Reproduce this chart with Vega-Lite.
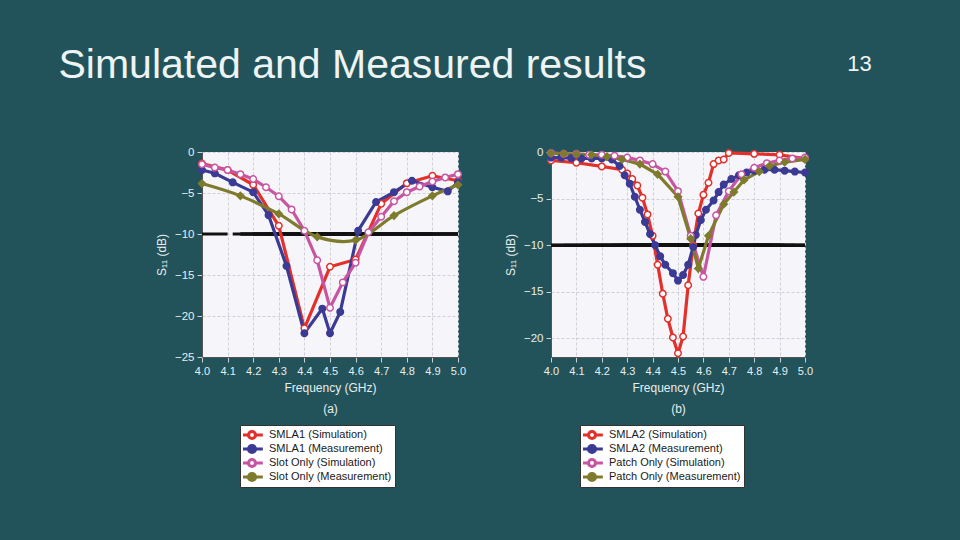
{
  "$schema": "https://vega.github.io/schema/vega-lite/v6.json",
  "background": "#22535b",
  "padding": {"left": 58, "top": 45, "right": 90, "bottom": 53},
  "title": {"text": "Simulated and Measured results", "anchor": "start", "dx": -97, "dy": 34, "fontSize": 41, "offset": 0, "color": "#eef3f3", "font": "Liberation Sans", "fontWeight": "normal"},
  "spacing": 38,
  "datasets": {
    "a": [
      {"series": "SMLA1 (Simulation)", "freq": 4.0, "s11": -1.4},
      {"series": "SMLA1 (Simulation)", "freq": 4.1, "s11": -2.2},
      {"series": "SMLA1 (Simulation)", "freq": 4.2, "s11": -4.0},
      {"series": "SMLA1 (Simulation)", "freq": 4.3, "s11": -9.0},
      {"series": "SMLA1 (Simulation)", "freq": 4.4, "s11": -21.5},
      {"series": "SMLA1 (Simulation)", "freq": 4.5, "s11": -14.0},
      {"series": "SMLA1 (Simulation)", "freq": 4.6, "s11": -13.1},
      {"series": "SMLA1 (Simulation)", "freq": 4.7, "s11": -6.3},
      {"series": "SMLA1 (Simulation)", "freq": 4.8, "s11": -3.8},
      {"series": "SMLA1 (Simulation)", "freq": 4.9, "s11": -2.9},
      {"series": "SMLA1 (Simulation)", "freq": 5.0, "s11": -3.5},
      {"series": "SMLA1 (Measurement)", "freq": 4.0, "s11": -2.2},
      {"series": "SMLA1 (Measurement)", "freq": 4.05, "s11": -2.6},
      {"series": "SMLA1 (Measurement)", "freq": 4.12, "s11": -3.7},
      {"series": "SMLA1 (Measurement)", "freq": 4.2, "s11": -4.9},
      {"series": "SMLA1 (Measurement)", "freq": 4.26, "s11": -7.7},
      {"series": "SMLA1 (Measurement)", "freq": 4.33, "s11": -13.9},
      {"series": "SMLA1 (Measurement)", "freq": 4.4, "s11": -22.1},
      {"series": "SMLA1 (Measurement)", "freq": 4.47, "s11": -19.1},
      {"series": "SMLA1 (Measurement)", "freq": 4.5, "s11": -22.1},
      {"series": "SMLA1 (Measurement)", "freq": 4.54, "s11": -19.5},
      {"series": "SMLA1 (Measurement)", "freq": 4.61, "s11": -9.6},
      {"series": "SMLA1 (Measurement)", "freq": 4.68, "s11": -6.1},
      {"series": "SMLA1 (Measurement)", "freq": 4.75, "s11": -4.9},
      {"series": "SMLA1 (Measurement)", "freq": 4.82, "s11": -3.5},
      {"series": "SMLA1 (Measurement)", "freq": 4.9, "s11": -4.3},
      {"series": "SMLA1 (Measurement)", "freq": 4.96, "s11": -4.8},
      {"series": "SMLA1 (Measurement)", "freq": 5.0, "s11": -3.7},
      {"series": "Slot Only (Simulation)", "freq": 4.0, "s11": -1.5},
      {"series": "Slot Only (Simulation)", "freq": 4.05, "s11": -1.9},
      {"series": "Slot Only (Simulation)", "freq": 4.1, "s11": -2.2},
      {"series": "Slot Only (Simulation)", "freq": 4.15, "s11": -2.7},
      {"series": "Slot Only (Simulation)", "freq": 4.2, "s11": -3.3},
      {"series": "Slot Only (Simulation)", "freq": 4.25, "s11": -4.3},
      {"series": "Slot Only (Simulation)", "freq": 4.3, "s11": -5.4},
      {"series": "Slot Only (Simulation)", "freq": 4.35, "s11": -7.0},
      {"series": "Slot Only (Simulation)", "freq": 4.4, "s11": -9.6},
      {"series": "Slot Only (Simulation)", "freq": 4.45, "s11": -13.2},
      {"series": "Slot Only (Simulation)", "freq": 4.5, "s11": -19.0},
      {"series": "Slot Only (Simulation)", "freq": 4.55, "s11": -15.9},
      {"series": "Slot Only (Simulation)", "freq": 4.6, "s11": -13.5},
      {"series": "Slot Only (Simulation)", "freq": 4.65, "s11": -9.8},
      {"series": "Slot Only (Simulation)", "freq": 4.7, "s11": -7.9},
      {"series": "Slot Only (Simulation)", "freq": 4.75, "s11": -6.0},
      {"series": "Slot Only (Simulation)", "freq": 4.8, "s11": -4.9},
      {"series": "Slot Only (Simulation)", "freq": 4.85, "s11": -4.2},
      {"series": "Slot Only (Simulation)", "freq": 4.9, "s11": -3.6},
      {"series": "Slot Only (Simulation)", "freq": 4.95, "s11": -3.1},
      {"series": "Slot Only (Simulation)", "freq": 5.0, "s11": -2.7},
      {"series": "Slot Only (Measurement)", "freq": 4.0, "s11": -3.85},
      {"series": "Slot Only (Measurement)", "freq": 4.15, "s11": -5.35},
      {"series": "Slot Only (Measurement)", "freq": 4.3, "s11": -7.55},
      {"series": "Slot Only (Measurement)", "freq": 4.45, "s11": -10.35},
      {"series": "Slot Only (Measurement)", "freq": 4.6, "s11": -10.75},
      {"series": "Slot Only (Measurement)", "freq": 4.75, "s11": -7.75},
      {"series": "Slot Only (Measurement)", "freq": 4.9, "s11": -5.35},
      {"series": "Slot Only (Measurement)", "freq": 5.0, "s11": -4.0}
    ],
    "b": [
      {"series": "SMLA2 (Simulation)", "freq": 4.0, "s11": -0.9},
      {"series": "SMLA2 (Simulation)", "freq": 4.1, "s11": -1.15},
      {"series": "SMLA2 (Simulation)", "freq": 4.2, "s11": -1.55},
      {"series": "SMLA2 (Simulation)", "freq": 4.28, "s11": -1.9},
      {"series": "SMLA2 (Simulation)", "freq": 4.3, "s11": -2.3},
      {"series": "SMLA2 (Simulation)", "freq": 4.32, "s11": -2.9},
      {"series": "SMLA2 (Simulation)", "freq": 4.34, "s11": -3.6},
      {"series": "SMLA2 (Simulation)", "freq": 4.36, "s11": -4.9},
      {"series": "SMLA2 (Simulation)", "freq": 4.38, "s11": -6.7},
      {"series": "SMLA2 (Simulation)", "freq": 4.4, "s11": -9.0},
      {"series": "SMLA2 (Simulation)", "freq": 4.42, "s11": -12.1},
      {"series": "SMLA2 (Simulation)", "freq": 4.44, "s11": -15.2},
      {"series": "SMLA2 (Simulation)", "freq": 4.46, "s11": -17.9},
      {"series": "SMLA2 (Simulation)", "freq": 4.48, "s11": -19.9},
      {"series": "SMLA2 (Simulation)", "freq": 4.5, "s11": -21.6},
      {"series": "SMLA2 (Simulation)", "freq": 4.52, "s11": -19.8},
      {"series": "SMLA2 (Simulation)", "freq": 4.54, "s11": -14.3},
      {"series": "SMLA2 (Simulation)", "freq": 4.56, "s11": -10.0},
      {"series": "SMLA2 (Simulation)", "freq": 4.58, "s11": -6.6},
      {"series": "SMLA2 (Simulation)", "freq": 4.6, "s11": -4.6},
      {"series": "SMLA2 (Simulation)", "freq": 4.62, "s11": -3.3},
      {"series": "SMLA2 (Simulation)", "freq": 4.64, "s11": -1.3},
      {"series": "SMLA2 (Simulation)", "freq": 4.66, "s11": -0.9},
      {"series": "SMLA2 (Simulation)", "freq": 4.68, "s11": -0.8},
      {"series": "SMLA2 (Simulation)", "freq": 4.7, "s11": -0.1},
      {"series": "SMLA2 (Simulation)", "freq": 4.8, "s11": -0.2},
      {"series": "SMLA2 (Simulation)", "freq": 4.9, "s11": -0.3},
      {"series": "SMLA2 (Simulation)", "freq": 5.0, "s11": -0.7},
      {"series": "SMLA2 (Measurement)", "freq": 4.0, "s11": -0.6},
      {"series": "SMLA2 (Measurement)", "freq": 4.04, "s11": -0.6},
      {"series": "SMLA2 (Measurement)", "freq": 4.08, "s11": -0.65},
      {"series": "SMLA2 (Measurement)", "freq": 4.12, "s11": -0.7},
      {"series": "SMLA2 (Measurement)", "freq": 4.16, "s11": -0.7},
      {"series": "SMLA2 (Measurement)", "freq": 4.2, "s11": -0.7},
      {"series": "SMLA2 (Measurement)", "freq": 4.24, "s11": -0.8},
      {"series": "SMLA2 (Measurement)", "freq": 4.27, "s11": -1.5},
      {"series": "SMLA2 (Measurement)", "freq": 4.29, "s11": -2.5},
      {"series": "SMLA2 (Measurement)", "freq": 4.31, "s11": -3.4},
      {"series": "SMLA2 (Measurement)", "freq": 4.33, "s11": -4.8},
      {"series": "SMLA2 (Measurement)", "freq": 4.35, "s11": -6.2},
      {"series": "SMLA2 (Measurement)", "freq": 4.37, "s11": -7.5},
      {"series": "SMLA2 (Measurement)", "freq": 4.39, "s11": -8.8},
      {"series": "SMLA2 (Measurement)", "freq": 4.41, "s11": -10.0},
      {"series": "SMLA2 (Measurement)", "freq": 4.43, "s11": -11.2},
      {"series": "SMLA2 (Measurement)", "freq": 4.45, "s11": -12.1},
      {"series": "SMLA2 (Measurement)", "freq": 4.48, "s11": -13.0},
      {"series": "SMLA2 (Measurement)", "freq": 4.5, "s11": -13.8},
      {"series": "SMLA2 (Measurement)", "freq": 4.52, "s11": -13.2},
      {"series": "SMLA2 (Measurement)", "freq": 4.54, "s11": -12.1},
      {"series": "SMLA2 (Measurement)", "freq": 4.56, "s11": -10.2},
      {"series": "SMLA2 (Measurement)", "freq": 4.57, "s11": -8.9},
      {"series": "SMLA2 (Measurement)", "freq": 4.59, "s11": -7.3},
      {"series": "SMLA2 (Measurement)", "freq": 4.61, "s11": -6.2},
      {"series": "SMLA2 (Measurement)", "freq": 4.64, "s11": -5.2},
      {"series": "SMLA2 (Measurement)", "freq": 4.66, "s11": -4.3},
      {"series": "SMLA2 (Measurement)", "freq": 4.68, "s11": -3.5},
      {"series": "SMLA2 (Measurement)", "freq": 4.71, "s11": -2.9},
      {"series": "SMLA2 (Measurement)", "freq": 4.74, "s11": -2.5},
      {"series": "SMLA2 (Measurement)", "freq": 4.77, "s11": -2.2},
      {"series": "SMLA2 (Measurement)", "freq": 4.8, "s11": -2.0},
      {"series": "SMLA2 (Measurement)", "freq": 4.84, "s11": -1.9},
      {"series": "SMLA2 (Measurement)", "freq": 4.88, "s11": -1.9},
      {"series": "SMLA2 (Measurement)", "freq": 4.92, "s11": -2.0},
      {"series": "SMLA2 (Measurement)", "freq": 4.96, "s11": -2.1},
      {"series": "SMLA2 (Measurement)", "freq": 5.0, "s11": -2.2},
      {"series": "Patch Only (Simulation)", "freq": 4.0, "s11": -0.1},
      {"series": "Patch Only (Simulation)", "freq": 4.05, "s11": -0.2},
      {"series": "Patch Only (Simulation)", "freq": 4.1, "s11": -0.2},
      {"series": "Patch Only (Simulation)", "freq": 4.15, "s11": -0.3},
      {"series": "Patch Only (Simulation)", "freq": 4.2, "s11": -0.3},
      {"series": "Patch Only (Simulation)", "freq": 4.25, "s11": -0.4},
      {"series": "Patch Only (Simulation)", "freq": 4.3, "s11": -0.6},
      {"series": "Patch Only (Simulation)", "freq": 4.35, "s11": -0.9},
      {"series": "Patch Only (Simulation)", "freq": 4.4, "s11": -1.3},
      {"series": "Patch Only (Simulation)", "freq": 4.45, "s11": -2.1},
      {"series": "Patch Only (Simulation)", "freq": 4.5, "s11": -4.2},
      {"series": "Patch Only (Simulation)", "freq": 4.55, "s11": -9.0},
      {"series": "Patch Only (Simulation)", "freq": 4.6, "s11": -13.4},
      {"series": "Patch Only (Simulation)", "freq": 4.65, "s11": -6.8},
      {"series": "Patch Only (Simulation)", "freq": 4.7, "s11": -4.2},
      {"series": "Patch Only (Simulation)", "freq": 4.75, "s11": -2.4},
      {"series": "Patch Only (Simulation)", "freq": 4.8, "s11": -1.7},
      {"series": "Patch Only (Simulation)", "freq": 4.85, "s11": -1.2},
      {"series": "Patch Only (Simulation)", "freq": 4.9, "s11": -0.9},
      {"series": "Patch Only (Simulation)", "freq": 4.95, "s11": -0.7},
      {"series": "Patch Only (Simulation)", "freq": 5.0, "s11": -0.6},
      {"series": "Patch Only (Measurement)", "freq": 4.0, "s11": -0.15},
      {"series": "Patch Only (Measurement)", "freq": 4.05, "s11": -0.2},
      {"series": "Patch Only (Measurement)", "freq": 4.1, "s11": -0.25},
      {"series": "Patch Only (Measurement)", "freq": 4.16, "s11": -0.3},
      {"series": "Patch Only (Measurement)", "freq": 4.22, "s11": -0.5},
      {"series": "Patch Only (Measurement)", "freq": 4.28, "s11": -0.8},
      {"series": "Patch Only (Measurement)", "freq": 4.35, "s11": -1.3},
      {"series": "Patch Only (Measurement)", "freq": 4.42, "s11": -2.4},
      {"series": "Patch Only (Measurement)", "freq": 4.5, "s11": -4.8},
      {"series": "Patch Only (Measurement)", "freq": 4.55, "s11": -9.3},
      {"series": "Patch Only (Measurement)", "freq": 4.58, "s11": -12.5},
      {"series": "Patch Only (Measurement)", "freq": 4.62, "s11": -9.0},
      {"series": "Patch Only (Measurement)", "freq": 4.68, "s11": -5.6},
      {"series": "Patch Only (Measurement)", "freq": 4.72, "s11": -4.3},
      {"series": "Patch Only (Measurement)", "freq": 4.76, "s11": -3.0},
      {"series": "Patch Only (Measurement)", "freq": 4.82, "s11": -2.1},
      {"series": "Patch Only (Measurement)", "freq": 4.86, "s11": -1.5},
      {"series": "Patch Only (Measurement)", "freq": 4.92, "s11": -1.1},
      {"series": "Patch Only (Measurement)", "freq": 5.0, "s11": -0.8}
    ]
  },
  "hconcat": [
    {
      "data": {"name": "a"},
      "width": 256,
      "height": 205,
      "title": {"text": " ", "fontSize": 22, "offset": 70},
      "encoding": {
        "x": {"field": "freq", "type": "quantitative", "scale": {"domain": [4, 5], "nice": false, "zero": false},
              "axis": {"values": [4.0, 4.1, 4.2, 4.3, 4.4, 4.5, 4.6, 4.7, 4.8, 4.9, 5.0], "format": ".1f", "title": ["Frequency (GHz)", "(a)"], "titleLineHeight": 21, "titlePadding": 6}},
        "y": {"field": "s11", "type": "quantitative", "scale": {"domain": [-25, 0], "nice": false, "zero": false},
              "axis": {"values": [0, -5, -10, -15, -20, -25], "title": "S₁₁ (dB)", "titlePadding": 6}}
      },
      "layer": [
        {
          "mark": {"type": "rule", "color": "#111111", "strokeWidth": 3},
          "encoding": {
            "x": {"aggregate": "min", "field": "freq", "type": "quantitative", "title": ["Frequency (GHz)", "(a)"]},
            "x2": {"aggregate": "max", "field": "freq"},
            "y": {"datum": -10, "type": "quantitative"}
          }
        },
        {
          "transform": [{"filter": "datum.series != 'Slot Only (Measurement)'"}],
          "mark": {"type": "line"},
          "encoding": {
            "stroke": {"field": "series", "type": "nominal",
              "scale": {"domain": ["SMLA1 (Simulation)", "SMLA1 (Measurement)", "Slot Only (Simulation)", "Slot Only (Measurement)"], "range": ["#e2302b", "#3b3a94", "#c855a2", "#7e7b2c"]},
              "legend": {"legendX": 38, "legendY": 273, "symbolType": "M-1.55,0H-0.5A0.5,0.5,0,1,1,0.5,0H1.55M0.5,0A0.5,0.5,0,1,1,-0.5,0"}},
            "strokeWidth": {"field": "series", "type": "nominal",
              "scale": {"domain": ["SMLA1 (Simulation)", "SMLA1 (Measurement)", "Slot Only (Simulation)", "Slot Only (Measurement)"], "range": [3.2, 3.2, 1.8, 2.2]}, "legend": null}
          }
        },
        {
          "transform": [{"filter": "datum.series == 'Slot Only (Measurement)'"}],
          "mark": {"type": "line", "interpolate": "catmull-rom"},
          "encoding": {
            "stroke": {"field": "series", "type": "nominal",
              "scale": {"domain": ["SMLA1 (Simulation)", "SMLA1 (Measurement)", "Slot Only (Simulation)", "Slot Only (Measurement)"], "range": ["#e2302b", "#3b3a94", "#c855a2", "#7e7b2c"]},
              "legend": {"legendX": 38, "legendY": 273, "symbolType": "M-1.55,0H-0.5A0.5,0.5,0,1,1,0.5,0H1.55M0.5,0A0.5,0.5,0,1,1,-0.5,0"}},
            "strokeWidth": {"field": "series", "type": "nominal",
              "scale": {"domain": ["SMLA1 (Simulation)", "SMLA1 (Measurement)", "Slot Only (Simulation)", "Slot Only (Measurement)"], "range": [3.2, 3.2, 1.8, 2.2]}, "legend": null}
          }
        },
        {
          "transform": [{"filter": "datum.series != 'Slot Only (Measurement)'"}],
          "mark": {"type": "point", "opacity": 1, "strokeWidth": 1.5, "size": 42},
          "encoding": {
            "stroke": {"field": "series", "type": "nominal",
              "scale": {"domain": ["SMLA1 (Simulation)", "SMLA1 (Measurement)", "Slot Only (Simulation)", "Slot Only (Measurement)"], "range": ["#e2302b", "#3b3a94", "#c855a2", "#7e7b2c"]},
              "legend": {"legendX": 38, "legendY": 273, "symbolType": "M-1.55,0H-0.5A0.5,0.5,0,1,1,0.5,0H1.55M0.5,0A0.5,0.5,0,1,1,-0.5,0"}},
            "fill": {"field": "series", "type": "nominal",
              "scale": {"domain": ["SMLA1 (Simulation)", "SMLA1 (Measurement)", "Slot Only (Simulation)", "Slot Only (Measurement)"], "range": ["#ffffff", "#3b3a94", "#ffffff", "#7e7b2c"]},
              "legend": {"legendX": 38, "legendY": 273, "symbolType": "M-1.55,0H-0.5A0.5,0.5,0,1,1,0.5,0H1.55M0.5,0A0.5,0.5,0,1,1,-0.5,0"}}
          }
        },
        {
          "transform": [{"filter": "datum.series == 'Slot Only (Measurement)'"}],
          "mark": {"type": "point", "shape": "diamond", "opacity": 1, "strokeWidth": 1.5, "size": 50},
          "encoding": {
            "stroke": {"field": "series", "type": "nominal",
              "scale": {"domain": ["SMLA1 (Simulation)", "SMLA1 (Measurement)", "Slot Only (Simulation)", "Slot Only (Measurement)"], "range": ["#e2302b", "#3b3a94", "#c855a2", "#7e7b2c"]},
              "legend": null},
            "fill": {"field": "series", "type": "nominal",
              "scale": {"domain": ["SMLA1 (Simulation)", "SMLA1 (Measurement)", "Slot Only (Simulation)", "Slot Only (Measurement)"], "range": ["#ffffff", "#3b3a94", "#ffffff", "#7e7b2c"]},
              "legend": null}
          }
        }
      ]
    },
    {
      "data": {"name": "b"},
      "width": 254,
      "height": 205,
      "title": {"text": "13", "fontSize": 22, "offset": 70, "anchor": "end", "dx": 59},
      "encoding": {
        "x": {"field": "freq", "type": "quantitative", "scale": {"domain": [4, 5], "nice": false, "zero": false},
              "axis": {"values": [4.0, 4.1, 4.2, 4.3, 4.4, 4.5, 4.6, 4.7, 4.8, 4.9, 5.0], "format": ".1f", "title": ["Frequency (GHz)", "(b)"], "titleLineHeight": 21, "titlePadding": 6}},
        "y": {"field": "s11", "type": "quantitative", "scale": {"domain": [-22, 0], "nice": false, "zero": false},
              "axis": {"values": [0, -5, -10, -15, -20], "title": "S₁₁ (dB)", "titlePadding": 6}}
      },
      "layer": [
        {
          "mark": {"type": "rule", "color": "#111111", "strokeWidth": 3},
          "encoding": {
            "x": {"aggregate": "min", "field": "freq", "type": "quantitative", "title": ["Frequency (GHz)", "(b)"]},
            "x2": {"aggregate": "max", "field": "freq"},
            "y": {"datum": -10, "type": "quantitative"}
          }
        },
        {
          "mark": {"type": "line"},
          "encoding": {
            "stroke": {"field": "series", "type": "nominal",
              "scale": {"domain": ["SMLA2 (Simulation)", "SMLA2 (Measurement)", "Patch Only (Simulation)", "Patch Only (Measurement)"], "range": ["#e2302b", "#3b3a94", "#c855a2", "#7e7b2c"]},
              "legend": {"legendX": 29, "legendY": 273, "symbolType": "M-1.55,0H-0.5A0.5,0.5,0,1,1,0.5,0H1.55M0.5,0A0.5,0.5,0,1,1,-0.5,0"}},
            "strokeWidth": {"field": "series", "type": "nominal",
              "scale": {"domain": ["SMLA2 (Simulation)", "SMLA2 (Measurement)", "Patch Only (Simulation)", "Patch Only (Measurement)"], "range": [3.2, 3.2, 1.8, 2.2]}, "legend": null}
          }
        },
        {
          "transform": [{"filter": "datum.series != 'Patch Only (Measurement)'"}],
          "mark": {"type": "point", "opacity": 1, "strokeWidth": 1.5, "size": 42},
          "encoding": {
            "stroke": {"field": "series", "type": "nominal",
              "scale": {"domain": ["SMLA2 (Simulation)", "SMLA2 (Measurement)", "Patch Only (Simulation)", "Patch Only (Measurement)"], "range": ["#e2302b", "#3b3a94", "#c855a2", "#7e7b2c"]},
              "legend": {"legendX": 29, "legendY": 273, "symbolType": "M-1.55,0H-0.5A0.5,0.5,0,1,1,0.5,0H1.55M0.5,0A0.5,0.5,0,1,1,-0.5,0"}},
            "fill": {"field": "series", "type": "nominal",
              "scale": {"domain": ["SMLA2 (Simulation)", "SMLA2 (Measurement)", "Patch Only (Simulation)", "Patch Only (Measurement)"], "range": ["#ffffff", "#3b3a94", "#ffffff", "#7e7b2c"]},
              "legend": {"legendX": 29, "legendY": 273, "symbolType": "M-1.55,0H-0.5A0.5,0.5,0,1,1,0.5,0H1.55M0.5,0A0.5,0.5,0,1,1,-0.5,0"}}
          }
        },
        {
          "transform": [{"filter": "datum.series == 'Patch Only (Measurement)'"}],
          "mark": {"type": "point", "shape": "diamond", "opacity": 1, "strokeWidth": 1.5, "size": 50},
          "encoding": {
            "stroke": {"field": "series", "type": "nominal",
              "scale": {"domain": ["SMLA2 (Simulation)", "SMLA2 (Measurement)", "Patch Only (Simulation)", "Patch Only (Measurement)"], "range": ["#e2302b", "#3b3a94", "#c855a2", "#7e7b2c"]},
              "legend": null},
            "fill": {"field": "series", "type": "nominal",
              "scale": {"domain": ["SMLA2 (Simulation)", "SMLA2 (Measurement)", "Patch Only (Simulation)", "Patch Only (Measurement)"], "range": ["#ffffff", "#3b3a94", "#ffffff", "#7e7b2c"]},
              "legend": null}
          }
        }
      ]
    }
  ],
  "resolve": {
    "scale": {"x": "independent", "y": "independent", "stroke": "independent", "fill": "independent", "strokeWidth": "independent"},
    "legend": {"stroke": "independent", "fill": "independent"}
  },
  "config": {
    "font": "Liberation Sans",
    "view": {"fill": "#f6f6fa", "stroke": null},
    "axis": {"labelFont": "Liberation Sans", "labelFontSize": 11.5, "labelColor": "#e6eeee", "titleFont": "Liberation Sans", "titleFontSize": 12, "titleFontWeight": "normal", "titleColor": "#e6eeee", "domainColor": "#555555", "tickColor": "#c9d3d3", "tickSize": 5, "labelPadding": 3, "gridColor": "#cfcfd6", "gridDash": [3, 2], "gridWidth": 1, "labelOverlap": false},
    "axisX": {"labelFlush": false, "labelFontSize": 11},
    "legend": {"title": null, "orient": "none", "fillColor": "#ffffff", "strokeColor": "#333333", "padding": 3, "labelFont": "Liberation Sans", "labelFontSize": 11, "labelColor": "#1a1a1a", "symbolSize": 196, "symbolStrokeWidth": 2.4, "rowPadding": 0, "clipHeight": 14, "labelOffset": 8},
    "title": {"font": "Liberation Sans", "fontWeight": "normal", "color": "#eef3f3"}
  }
}
